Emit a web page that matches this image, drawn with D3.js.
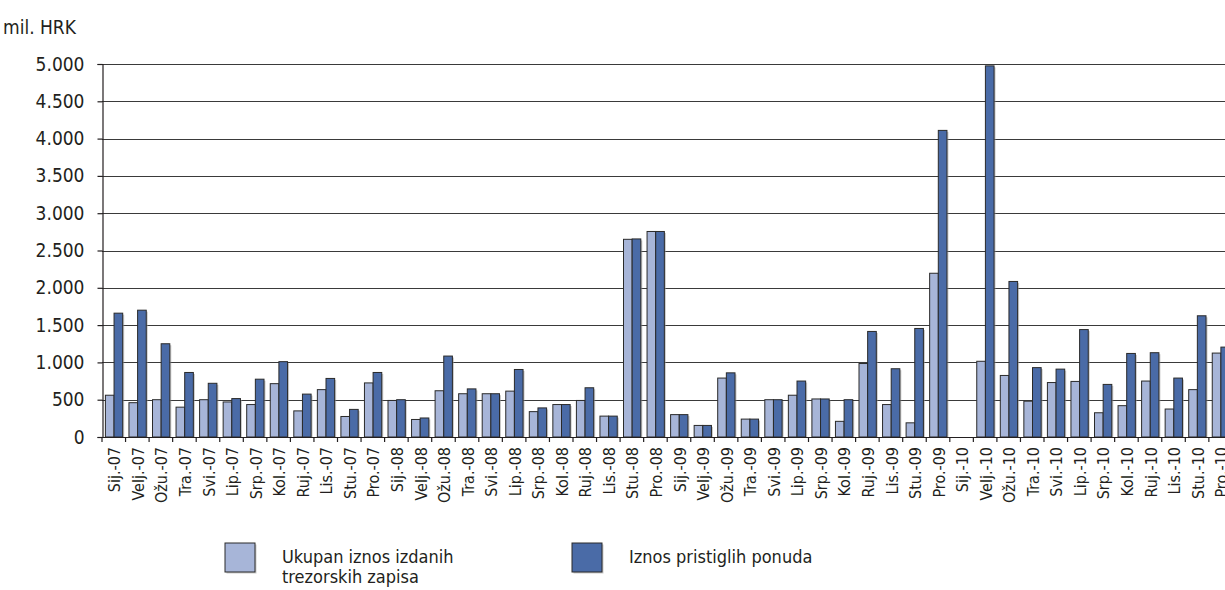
<!DOCTYPE html>
<html>
<head>
<meta charset="utf-8">
<script src="https://cdn.jsdelivr.net/npm/d3@7"></script>
<style>
  html, body { margin: 0; padding: 0; background: #fff; overflow: hidden; }
  svg { display: block; }
  text { font-family: "Liberation Sans Narrow", "DejaVu Sans Condensed", "Liberation Sans", sans-serif; fill: #231f20; }
</style>
</head>
<body>
<svg id="chart" width="1225" height="590"></svg>
<script>
const categories = [
  "Sij.-07","Velj.-07","Ožu.-07","Tra.-07","Svi.-07","Lip.-07","Srp.-07","Kol.-07","Ruj.-07","Lis.-07","Stu.-07","Pro.-07",
  "Sij.-08","Velj.-08","Ožu.-08","Tra.-08","Svi.-08","Lip.-08","Srp.-08","Kol.-08","Ruj.-08","Lis.-08","Stu.-08","Pro.-08",
  "Sij.-09","Velj.-09","Ožu.-09","Tra.-09","Svi.-09","Lip.-09","Srp.-09","Kol.-09","Ruj.-09","Lis.-09","Stu.-09","Pro.-09",
  "Sij.-10","Velj.-10","Ožu.-10","Tra.-10","Svi.-10","Lip.-10","Srp.-10","Kol.-10","Ruj.-10","Lis.-10","Stu.-10","Pro.-10"
];
const issued = [
  560, 460, 500, 400, 500, 470, 435, 715, 350, 635, 275, 725,
  490, 235, 620, 580, 580, 615, 340, 435, 490, 280, 2650, 2755,
  300, 155, 790, 240, 500, 560, 510, 210, 985, 435, 190, 2195,
  null, 1015, 825, 480, 730, 745, 325, 420, 750, 375, 635, 1125
];
const received = [
  1660, 1700, 1250, 865, 720, 515, 775, 1010, 575, 785, 370, 865,
  500, 255, 1085, 645, 580, 905, 390, 435, 660, 280, 2655, 2755,
  300, 155, 860, 240, 500, 750, 510, 500, 1415, 915, 1455, 4110,
  null, 4975, 2085, 930, 910, 1440, 705, 1120, 1130, 790, 1625, 1205
];
const seriesNames = ["Ukupan iznos izdanih trezorskih zapisa", "Iznos pristiglih ponuda"];
const seriesColors = ["#a7b5d8", "#4a6ba7"];
const yTicks = [0, 500, 1000, 1500, 2000, 2500, 3000, 3500, 4000, 4500, 5000];
const yTickLabels = ["0","500","1.000","1.500","2.000","2.500","3.000","3.500","4.000","4.500","5.000"];
const yUnit = "mil. HRK";

const svg = d3.select("#chart");
const left = 102, catW = 23.55, baseY = 437, topY = 64;
const x0 = d3.scaleBand().domain(categories).range([left, left + catW * categories.length]).padding(0);
const x1 = d3.scaleBand().domain([0, 1]).range([3.4, 20.7]).padding(0);
const y = d3.scaleLinear().domain([0, 5000]).range([baseY, topY]);

// gridlines
svg.append("g").selectAll("line").data(yTicks.filter(d => d > 0)).join("line")
  .attr("x1", left).attr("x2", 1225)
  .attr("y1", d => Math.round(y(d)) + 0.5).attr("y2", d => Math.round(y(d)) + 0.5)
  .attr("stroke", "#3a3a3a").attr("stroke-width", 1.2);

// y axis
const yAxis = d3.axisLeft(y).tickValues(yTicks).tickFormat((d, i) => yTickLabels[i]).tickSize(5).tickPadding(13);
const gy = svg.append("g").attr("transform", `translate(${left + 0.5},0)`).call(yAxis);
gy.select(".domain").attr("stroke", "#231f20").attr("stroke-width", 1.2);
gy.selectAll(".tick line").attr("stroke", "#231f20").attr("stroke-width", 1.2);
gy.selectAll(".tick text").style("font-size", "19px").style("font-family", "Liberation Sans Narrow, DejaVu Sans Condensed, sans-serif").attr("fill", "#231f20");

svg.append("text").attr("x", 3).attr("y", 34).text(yUnit).style("font-size", "19px");

// bars
const rows = categories.map((c, i) => ({ c, v: [issued[i], received[i]] }));
const g = svg.append("g");
rows.forEach(r => {
  r.v.forEach((v, s) => {
    if (v == null || v === 0) return;
    const bx = x0(r.c) + x1(s);
    const bw = x1.bandwidth();
    g.append("rect").attr("x", bx + 1.5).attr("y", y(v) + 1.5)
      .attr("width", bw).attr("height", baseY - y(v) - 1.5)
      .attr("fill", "#9a9a9a").attr("opacity", 0.55);
    g.append("rect").attr("x", bx).attr("y", y(v))
      .attr("width", bw).attr("height", baseY - y(v))
      .attr("fill", seriesColors[s]).attr("stroke", "#2a2a2a").attr("stroke-width", 1);
  });
});

// baseline + x ticks
svg.append("line").attr("x1", left).attr("x2", 1225).attr("y1", baseY + 0.5).attr("y2", baseY + 0.5)
  .attr("stroke", "#231f20").attr("stroke-width", 1.2);
const bounds = categories.map(c => x0(c)).concat([x0(categories[categories.length - 1]) + catW]);
svg.append("g").selectAll("line").data(bounds).join("line")
  .attr("x1", d => d).attr("x2", d => d).attr("y1", baseY).attr("y2", baseY + 5)
  .attr("stroke", "#231f20").attr("stroke-width", 1.2);

// x labels
svg.append("g").selectAll("text").data(categories).join("text")
  .attr("transform", d => `translate(${x0(d) + catW / 2 + 1},${baseY + 10}) rotate(-90)`)
  .attr("text-anchor", "end").attr("dy", "0.35em")
  .style("font-size", "16px")
  .text(d => d);

// legend
const leg = [
  { x: 225, lines: ["Ukupan iznos izdanih", "trezorskih zapisa"] },
  { x: 572, lines: ["Iznos pristiglih ponuda"] }
];
leg.forEach((l, i) => {
  svg.append("rect").attr("x", l.x + 1.5).attr("y", 544.5).attr("width", 30).attr("height", 29)
    .attr("fill", "#9a9a9a").attr("opacity", 0.5);
  svg.append("rect").attr("x", l.x).attr("y", 543).attr("width", 30).attr("height", 29)
    .attr("fill", seriesColors[i]).attr("stroke", "#2a2a2a").attr("stroke-width", 1);
  const t = svg.append("text").attr("x", l.x + 57).attr("y", 563).style("font-size", "18px");
  l.lines.forEach((ln, j) => t.append("tspan").attr("x", l.x + 57).attr("dy", j === 0 ? 0 : 20).text(ln));
});
</script>
</body>
</html>
